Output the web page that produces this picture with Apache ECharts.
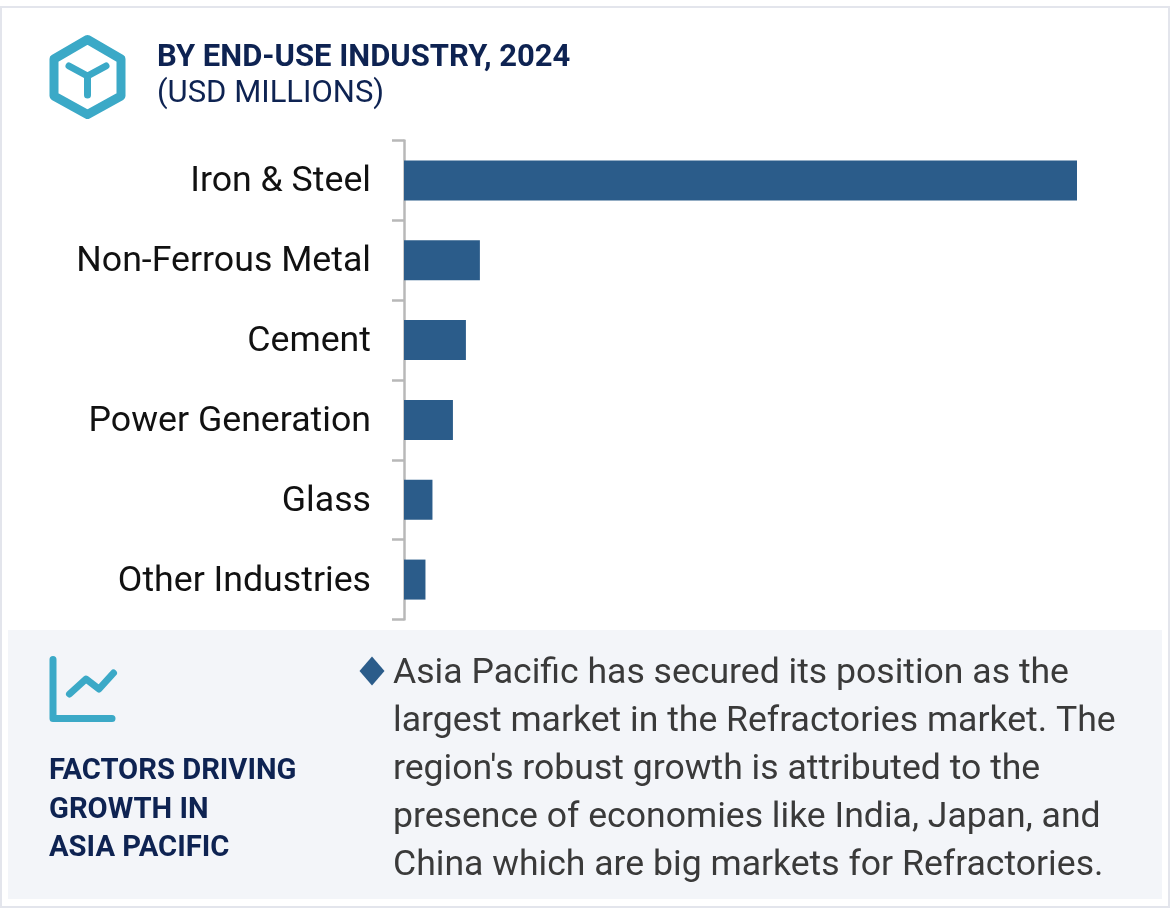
<!DOCTYPE html>
<html>
<head>
<meta charset="utf-8">
<style>html,body{margin:0;padding:0;background:#fff}#c{width:1170px;height:918px}</style>
<script src="https://cdn.jsdelivr.net/npm/echarts@6/dist/echarts.min.js"></script>
</head>
<body>
<div id="c"></div>
<script>
const categories = ['Iron & Steel','Non-Ferrous Metal','Cement','Power Generation','Glass','Other Industries'];
const values = [6740,760,620,490,285,215];
const titleLines = ['BY END-USE INDUSTRY, 2024','(USD MILLIONS)'];
const factorLines = ['FACTORS DRIVING','GROWTH IN','ASIA PACIFIC'];
const bodyLines = [
 'Asia Pacific has secured its position as the',
 'largest market in the Refractories market. The',
 "region's robust growth is attributed to the",
 'presence of economies like India, Japan, and',
 'China which are big markets for Refractories.'
];
const NAVY='#0e2352', TEAL='#3ba9c7', BLUE='#2b5c8a', FONT='Roboto';
const chart = echarts.init(document.getElementById('c'),null,{renderer:'canvas'});
const txt=(x,y,t,size,weight,color)=>({type:'text',x,y,z:10,style:{text:t,fontFamily:FONT,fontSize:size,fontWeight:weight,fill:color,textVerticalAlign:'middle'}});
const graphic=[
 {type:'rect',z:-2,shape:{x:1,y:7,width:1168,height:900},style:{fill:'#fff',stroke:'#e3e5ec',lineWidth:2}},
 {type:'rect',z:-1,shape:{x:8,y:630,width:1154,height:269},style:{fill:'#f3f5f9'}},
 {type:'polygon',shape:{points:[[87.5,39.5],[121,59],[121,96],[87.5,114.5],[54,96],[54,59]]},style:{fill:'none',stroke:TEAL,lineWidth:9,lineJoin:'round'}},
 {type:'polyline',shape:{points:[[69,66],[87.5,76],[106,66]]},style:{fill:'none',stroke:TEAL,lineWidth:7,lineCap:'round',lineJoin:'round'}},
 {type:'line',shape:{x1:87.5,y1:76,x2:87.5,y2:95},style:{stroke:TEAL,lineWidth:7,lineCap:'round'}},
 {type:'polyline',shape:{points:[[53,659.5],[53,718.5],[112,718.5]]},style:{fill:'none',stroke:TEAL,lineWidth:7,lineCap:'round',lineJoin:'round'}},
 {type:'polyline',shape:{points:[[69.5,694],[86,679],[99,689],[113.5,673]]},style:{fill:'none',stroke:TEAL,lineWidth:7,lineCap:'round',lineJoin:'round'}},
 {type:'polygon',shape:{points:[[372,656.5],[384.5,671],[372,685.5],[359.5,671]]},style:{fill:BLUE}},
 txt(157,58,titleLines[0],31,700,NAVY),
 txt(157,94,titleLines[1],31,400,NAVY),
 ...factorLines.map((t,i)=>txt(49,772+i*38.5,t,29.2,700,NAVY)),
 ...bodyLines.map((t,i)=>txt(393,674+i*48,t,35.6,400,'#3a3a3a'))
];
chart.setOption({
 animation:false,
 graphic,
 grid:{left:404,top:140.5,width:673,height:479,containLabel:false},
 xAxis:{type:'value',min:0,max:6740,show:false},
 yAxis:{type:'category',inverse:true,data:categories,
  axisLine:{show:true,lineStyle:{color:'#b8b8b8',width:2.5}},
  axisTick:{show:true,alignWithLabel:false,length:12,lineStyle:{color:'#b8b8b8',width:2.5}},
  axisLabel:{margin:33,formatter:v=>'{a|'+v+'}',
    rich:{a:{fontFamily:FONT,fontSize:35.7,color:'#111',padding:[4,0,0,0]}}},
  splitLine:{show:false}},
 series:[{type:'bar',data:values,barWidth:40,itemStyle:{color:BLUE},silent:true}]
});
</script>
</body>
</html>
